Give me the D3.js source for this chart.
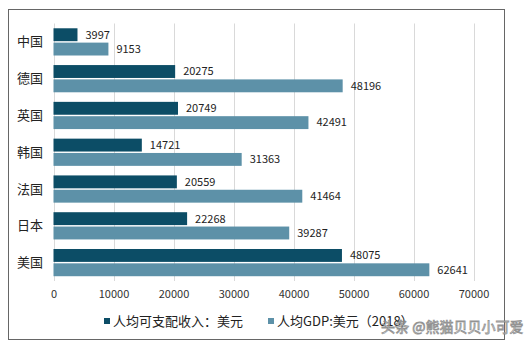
<!DOCTYPE html>
<html><head><meta charset="utf-8">
<script src="https://cdn.jsdelivr.net/npm/d3@7"></script>
<style>body{margin:0;background:#fff}svg{display:block}text{font-family:"Noto Sans CJK SC","Noto Sans",sans-serif}</style>
</head><body>
<svg id="c" width="526" height="346"></svg>
<script>
const categories = ["中国","德国","英国","韩国","法国","日本","美国"];
const income = [3997,20275,20749,14721,20559,22268,48075];
const gdp = [9153,48196,42491,31363,41464,39287,62641];
const seriesNames = ["人均可支配收入：美元","人均GDP:美元（2018）"];
const xTicks = [0,10000,20000,30000,40000,50000,60000,70000];
const colors = ["#0c4d66","#5d91a8"];

const svg = d3.select("#c");
svg.append("rect").attr("x",8.5).attr("y",9.5).attr("width",496).attr("height",330)
  .attr("fill","#fff").attr("stroke","#666").attr("stroke-width",1);

const x = d3.scaleLinear().domain([0,70000]).range([53.5,473.5]);
const y = d3.scaleBand().domain(categories).range([23.5,281]).paddingInner(0.26).paddingOuter(0.13);
const sub = d3.scaleBand().domain([0,1]).range([0,y.bandwidth()]).paddingInner(0.1);

// gridlines
svg.append("g").selectAll("line").data(xTicks).join("line")
  .attr("x1",d=>Math.round(x(d))+0.5).attr("x2",d=>Math.round(x(d))+0.5)
  .attr("y1",23.5).attr("y2",281).attr("stroke","#d9d9d9").attr("stroke-width",1);

// axis labels
const ax = svg.append("g").attr("transform","translate(0,281)")
  .call(d3.axisBottom(x).tickValues(xTicks).tickSize(0).tickPadding(9).tickFormat(d3.format("d")));
ax.select(".domain").remove();
ax.selectAll("text").attr("font-size",11).attr("fill","#333");

// category labels
svg.append("g").selectAll("text").data(categories).join("text")
  .attr("x",43).attr("y",d=>y(d)+y.bandwidth()/2).attr("dy","0.35em")
  .attr("text-anchor","end").attr("font-size",13).attr("fill","#222").text(d=>d);

const data = categories.map((c,i)=>({c,v:[income[i],gdp[i]]}));
[0,1].forEach(s=>{
  const g = svg.append("g");
  g.selectAll("rect").data(data).join("rect")
    .attr("x",x(0)).attr("y",d=>y(d.c)+sub(s)).attr("width",d=>x(d.v[s])-x(0))
    .attr("height",sub.bandwidth()).attr("fill",colors[s]);
  g.selectAll("text").data(data).join("text")
    .attr("x",d=>x(d.v[s])+8).attr("y",d=>y(d.c)+sub(s)+sub.bandwidth()/2).attr("dy","0.35em")
    .attr("font-size",11).attr("fill","#222").text(d=>d.v[s]);
});

// legend
const lg = [{x:104,s:0},{x:268,s:1}];
lg.forEach(l=>{
  svg.append("rect").attr("x",l.x).attr("y",318).attr("width",6).attr("height",6).attr("fill",colors[l.s]);
  svg.append("text").attr("x",l.x+9).attr("y",321).attr("dy","0.35em").attr("font-size",13)
    .attr("fill","#222").text(seriesNames[l.s]);
});

// watermark
svg.append("text").attr("x",381).attr("y",327).attr("dy","0.35em").attr("font-size",14)
  .attr("fill","#fff").attr("stroke","#888").attr("stroke-width",0.8).attr("opacity",0.9)
  .text("头条 @熊猫贝贝小可爱");
</script>
</body></html>
